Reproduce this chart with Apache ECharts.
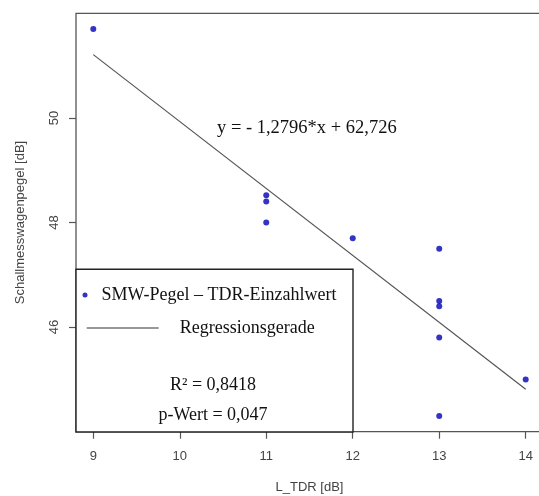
<!DOCTYPE html>
<html>
<head>
<meta charset="utf-8">
<script src="https://cdn.jsdelivr.net/npm/echarts@6/dist/echarts.min.js"></script>
<style>
html,body{margin:0;padding:0;background:#fff;}
#chart{width:539px;height:496px;}
</style>
</head>
<body>
<div id="chart"></div>
<script>
// Data
var ltdr = [9, 11, 11, 11, 12, 13, 13, 13, 13, 13, 14];
var pegel = [51.7, 48.52, 48.4, 48.0, 47.7, 47.5, 46.5, 46.4, 45.8, 44.3, 45.0];
var regX = [9, 14];
var regY = [51.21, 44.81];
var xTicks = [9, 10, 11, 12, 13, 14];
var yTicks = [46, 48, 50];
var seriesNames = ['SMW-Pegel – TDR-Einzahlwert', 'Regressionsgerade'];
var equationText = 'y = - 1,2796*x + 62,726';
var statTexts = ['R² = 0,8418', 'p-Wert = 0,047'];

var scatterData = ltdr.map(function (x, i) { return [x, pegel[i]]; });
var lineData = regX.map(function (x, i) { return [x, regY[i]]; });

var serif = '"Liberation Serif", "Times New Roman", serif';
var sans = '"Liberation Sans", Arial, sans-serif';

var chart = echarts.init(document.getElementById('chart'), null, {renderer: 'canvas'});
chart.setOption({
  backgroundColor: '#ffffff',
  animation: false,
  grid: {
    left: 76, top: 13.3, width: 467, height: 418.4,
    outerBoundsMode: 'none', containLabel: false,
    show: true, borderColor: '#555', borderWidth: 1.3, backgroundColor: 'transparent'
  },
  xAxis: {
    type: 'value', min: 8.8, max: 14.2,
    name: 'L_TDR [dB]', nameLocation: 'middle', nameGap: 49,
    nameTextStyle: {fontFamily: sans, fontSize: 13, color: '#444'},
    axisLine: {show: false},
    splitLine: {show: false},
    axisTick: {show: true, length: 7, customValues: xTicks, lineStyle: {color: '#555', width: 1.2}},
    axisLabel: {customValues: xTicks, margin: 18, fontFamily: sans, fontSize: 13, color: '#444'}
  },
  yAxis: {
    type: 'value', min: 44, max: 52,
    name: 'Schallmesswagenpegel [dB]', nameLocation: 'middle', nameGap: 49, nameRotate: 90,
    nameTextStyle: {fontFamily: sans, fontSize: 13, color: '#444'},
    axisLine: {show: false},
    splitLine: {show: false},
    axisTick: {show: true, length: 7, customValues: yTicks, lineStyle: {color: '#555', width: 1.2}},
    axisLabel: {customValues: yTicks, rotate: 90, margin: 15, fontFamily: sans, fontSize: 13, color: '#444'}
  },
  legend: [
    {
      data: [{name: seriesNames[0], icon: 'circle'}],
      left: 82.5, top: 285, padding: 0, itemWidth: 5, itemHeight: 5,
      selectedMode: false, z: 10,
      textStyle: {fontFamily: serif, fontSize: 18, color: '#111', lineHeight: 20, padding: [0, 0, 0, 9]}
    },
    {
      data: [{name: seriesNames[1], icon: 'rect', itemStyle: {color: '#333'}}],
      left: 86.7, top: 318, padding: 0, itemWidth: 72, itemHeight: 1.2,
      selectedMode: false, z: 10,
      textStyle: {fontFamily: serif, fontSize: 18, color: '#111', lineHeight: 20, padding: [0, 0, 0, 16]}
    }
  ],
  graphic: [
    {
      type: 'rect', z: 3,
      shape: {x: 76, y: 269.3, width: 277, height: 162.7},
      style: {fill: '#fff', stroke: '#222', lineWidth: 1.4}
    },
    {
      type: 'text', z: 20, x: 217, y: 128,
      style: {text: equationText, font: '18.5px ' + serif, fill: '#111', textVerticalAlign: 'middle', textAlign: 'left'}
    },
    {
      type: 'text', z: 20, x: 213, y: 385,
      style: {text: statTexts[0], font: '18px ' + serif, fill: '#111', textVerticalAlign: 'middle', textAlign: 'center'}
    },
    {
      type: 'text', z: 20, x: 213, y: 415,
      style: {text: statTexts[1], font: '18px ' + serif, fill: '#111', textVerticalAlign: 'middle', textAlign: 'center'}
    }
  ],
  series: [
    {
      name: seriesNames[0], type: 'scatter', data: scatterData,
      symbol: 'circle', symbolSize: 6, itemStyle: {color: '#0000B8'}, z: 4
    },
    {
      name: seriesNames[1], type: 'line', data: lineData,
      symbol: 'none', lineStyle: {color: '#555', width: 1.2}, itemStyle: {color: '#333'}, z: 4
    }
  ]
});
</script>
</body>
</html>
